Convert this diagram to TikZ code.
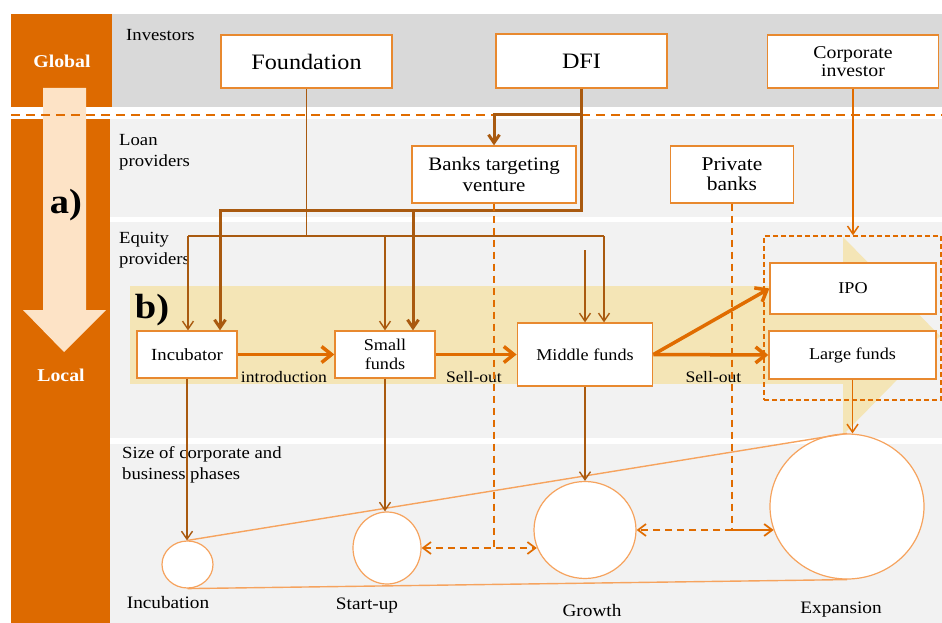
\documentclass[tikz,border=0pt]{standalone}
\usepackage{fontspec}
\setmainfont{Liberation Serif}[FakeStretch=1.1]
\usetikzlibrary{arrows.meta,shapes.geometric}
\definecolor{barorange}{HTML}{DD6A00}
\definecolor{peach}{HTML}{FDE3C6}
\definecolor{bandgray}{HTML}{D9D9D9}
\definecolor{lightgray}{HTML}{F2F2F2}
\definecolor{sand}{HTML}{F4E5B6}
\definecolor{boxline}{HTML}{E8892F}
\definecolor{flow}{HTML}{E06C00}
\definecolor{brownline}{HTML}{A95A10}
\definecolor{ringline}{HTML}{F6A35E}

\begin{document}
\begin{tikzpicture}[x=1pt,y=-1pt,
  every node/.style={inner sep=0pt},
  box/.style={draw=boxline,line width=1.3pt,fill=white,align=center},
  ring/.style={ellipse,draw=ringline,line width=1.2pt,fill=white,inner sep=0pt},
  tag/.style={align=left,anchor=west,font=\fontsize{17}{20.5}\selectfont},
  phase/.style={font=\fontsize{17.5}{21}\selectfont},
  flowlabel/.style={font=\fontsize{16}{19}\selectfont},
  barb/.style={-{Straight Barb[length=8pt,width=11pt]}},
  bigbarb/.style={-{Straight Barb[length=10pt,width=16pt]}},
  feed/.style={draw=brownline,line width=1.4pt},
  dfiline/.style={draw=brownline,line width=3pt,line join=miter},
  flowline/.style={draw=flow,line width=3.5pt,bigbarb},
  orangefeed/.style={draw=flow,line width=1.5pt},
  dashline/.style={draw=flow,line width=1.7pt,dash pattern=on 7pt off 5pt},
]
\useasboundingbox (0,0) rectangle (942,623);

% level bands
\fill[bandgray] (112,14) rectangle (942,107);
\fill[lightgray] (110,119) rectangle (942,217);
\fill[lightgray] (110,222) rectangle (942,438);
\fill[lightgray] (110,444) rectangle (942,623);

% global / local bar with the descending arrow
\fill[barorange] (11,14) rectangle (112,107);
\fill[barorange] (11,119) rectangle (110,623);
\fill[peach] (43,88) -- (86,88) -- (86,310) -- (106,310) -- (64,352)
  -- (23,310) -- (43,310) -- cycle;
\draw[draw=flow,line width=2.5pt,dash pattern=on 9pt off 6pt] (11,115) -- (942,115);

% financing chain band
\fill[sand] (130,286) rectangle (843,384);
\fill[sand] (843,237) -- (940,336) -- (843,435) -- cycle;

% band labels
\node[text=white,font=\bfseries\fontsize{18}{20}\selectfont] (global) at (62,61) {Global};
\node[text=white,font=\bfseries\fontsize{18}{20}\selectfont] (local) at (61,375) {Local};
\node[font=\bfseries\fontsize{35}{38}\selectfont] (parta) at (66,205) {a)};
\node[font=\bfseries\fontsize{35}{38}\selectfont] (partb) at (152,310) {b)};
\node[tag] (investors) at (126,35) {Investors};
\node[tag] (loan) at (119,152) {Loan\\providers};
\node[tag] (equity) at (119,250) {Equity\\providers};
\node[tag] (sizes) at (122,465) {Size of corporate and\\business phases};

% investors and lenders
\node[box,minimum width=171pt,minimum height=53pt,font=\fontsize{22}{25}\selectfont]
  (foundation) at (306.5,61.5) {Foundation};
\node[box,minimum width=171pt,minimum height=54pt,font=\fontsize{22}{25}\selectfont]
  (dfi) at (581.5,61) {DFI};
\node[box,minimum width=171pt,minimum height=53pt,font=\fontsize{18}{18.5}\selectfont]
  (corp) at (853,61.5) {Corporate\\investor};
\node[box,minimum width=164pt,minimum height=57pt,font=\fontsize{19}{21}\selectfont]
  (banks) at (494,174.5) {Banks targeting\\venture};
\node[box,minimum width=123pt,minimum height=57pt,font=\fontsize{19.5}{20}\selectfont]
  (private) at (732,174.5) {Private\\banks};

% equity providers
\node[draw=flow,line width=1.3pt,dash pattern=on 5pt off 3pt,
  minimum width=177pt,minimum height=164pt] (exitbox) at (852.5,318) {};
\node[box,minimum width=100pt,minimum height=47pt,font=\fontsize{17}{19}\selectfont]
  (incubator) at (187,354.5) {Incubator};
\node[box,minimum width=100pt,minimum height=47pt,font=\fontsize{16.5}{19}\selectfont]
  (small) at (385,354.5) {Small\\funds};
\node[box,minimum width=135.5pt,minimum height=63pt,font=\fontsize{16.5}{19}\selectfont]
  (middle) at (585,354.5) {Middle funds};
\node[box,minimum width=166pt,minimum height=51pt,font=\fontsize{16.5}{19}\selectfont]
  (ipo) at (853,288.5) {IPO};
\node[box,minimum width=167pt,minimum height=48pt,font=\fontsize{16.5}{19}\selectfont]
  (large) at (852.5,355) {Large funds};

\node[flowlabel] (intro) at (284,377) {introduction};
\node[flowlabel] (sell1) at (474,377) {Sell-out};
\node[flowlabel] (sell2) at (713.5,377) {Sell-out};

% company phases
\node[ring,minimum width=51pt,minimum height=47pt] (incub) at (187.5,564.5) {};
\node[ring,minimum width=68pt,minimum height=72pt] (startup) at (387,548) {};
\node[ring,minimum width=102pt,minimum height=97pt] (growth) at (585,530) {};
\node[ring,minimum width=154pt,minimum height=145pt] (expan) at (847,506.5) {};
\draw[draw=ringline,line width=1.4pt] (incub.north) -- (expan.north);
\draw[draw=ringline,line width=1.4pt] (incub.south) -- (expan.south);
\node[phase] (incublbl) at (168,603) {Incubation};
\node[phase] (startlbl) at (367,606) {Start-up};
\node[phase] (growlbl) at (592,611) {Growth};
\node[phase] (expanlbl) at (841,610) {Expansion};

% foundation money
\coordinate (fdA) at (188,236);
\coordinate (fdB) at (385,236);
\coordinate (fdC) at (604,236);
\draw[feed] (foundation.south) |- (fdC);
\draw[feed] (fdA) -- (fdC);
\draw[feed,barb] (fdA) -- (fdA |- incubator.north);
\draw[feed,barb] (fdB) -- (fdB |- small.north);
\draw[feed,barb] (fdC) -- (fdC |- middle.north);
\coordinate (midfeed) at (585,250);
\draw[feed,barb] (midfeed) -- (middle.north);

% DFI money
\coordinate (dfibus) at (220,210);
\coordinate (dfiB) at (413,210);
\coordinate (dfiC) at (581,115);
\draw[dfiline,barb] (dfi.south) |- (dfibus) -- (dfibus |- incubator.north);
\draw[dfiline,barb] (dfiB) -- (dfiB |- small.north);
\draw[dfiline,barb] (dfiC) -| (banks.north);

% corporate investor into the exit options
\draw[orangefeed,barb] (corp.south) -- (corp.south |- exitbox.north);

% financing chain
\draw[flowline] (incubator.east) -- (small.west);
\draw[flowline] (small.east) -- (middle.west);
\draw[flowline] (middle.east) -- (ipo.west);
\draw[flowline] (middle.east) -- (large.west);

% funds backing each phase
\draw[feed,barb] (incubator.south) -- (incubator.south |- incub.north);
\draw[feed,barb] (small.south) -- (small.south |- startup.north);
\draw[feed,barb] (middle.south) -- (growth.north);
\draw[orangefeed,barb] (large.south) -- (large.south |- expan.north);

% bank loans between phases
\coordinate (bkjoin) at (banks.south |- startup.east);
\draw[dashline] (banks.south) -- (bkjoin);
\draw[dashline,{Straight Barb[length=8pt,width=12pt]}-{Straight Barb[length=8pt,width=12pt]}]
  (startup.east) -- (startup.east -| growth.200);
\coordinate (pbjoin) at (private.south |- growth.east);
\draw[dashline] (private.south) -- (pbjoin);
\draw[dashline,-{Straight Barb[length=8pt,width=12pt]}] (pbjoin) -- (growth.east);
\draw[orangefeed,line width=1.8pt,-{Straight Barb[length=8pt,width=12pt]}]
  (pbjoin) -- (pbjoin -| expan.198);
\end{tikzpicture}
\end{document}
